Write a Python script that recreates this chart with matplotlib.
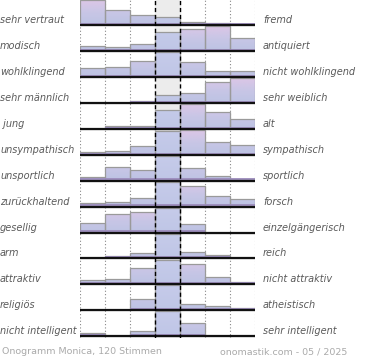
import numpy as np
import matplotlib
matplotlib.use("Agg")
import matplotlib.pyplot as plt
from matplotlib.colors import LinearSegmentedColormap
from matplotlib.patches import Rectangle
import matplotlib.transforms as mtransforms

left_labels = ["sehr vertraut", "modisch", "wohlklingend", "sehr männlich", " jung",
               "unsympathisch", "unsportlich", "zurückhaltend", "gesellig", "arm",
               "attraktiv", "religiös", "nicht intelligent"]
right_labels = ["fremd", "antiquiert", "nicht wohlklingend", "sehr weiblich", "alt",
                "sympathisch", "sportlich", "forsch", "einzelgängerisch", "reich",
                "nicht attraktiv", "atheistisch", "sehr intelligent"]

# relative bar heights per row, 7 bins from left label to right label
values = [
    [24, 14, 10, 8, 2.5, 1.5, 1],
    [4.5, 3.5, 7, 19, 22.5, 25, 12.5],
    [8.7, 10, 15.3, 24.7, 15, 6.3, 6.3],
    [0, 0, 1.7, 7.7, 9.3, 20.7, 24.3],
    [0, 2.3, 3, 18, 24.3, 16.3, 9.7],
    [2.7, 3.7, 8.7, 24, 25, 12.3, 9.3],
    [3.3, 12.3, 9.7, 23.3, 12, 4, 1.3],
    [3.3, 5, 9, 24.7, 20, 10.7, 8],
    [10, 19, 21, 25, 8.3, 0, 0],
    [0, 2.7, 5, 25, 6, 3, 0],
    [4.7, 5.7, 16.3, 25, 20.7, 7, 2.3],
    [0, 0.5, 11.7, 25, 6.7, 4.3, 2.7],
    [3, 0, 5, 25, 13, 0, 0],
]

footer_left = "Onogramm Monica, 120 Stimmen"
footer_right = "onomastik.com - 05 / 2025"

W, H = 370, 360
row_h = 25.95
n_rows = len(values)
n_bins = 7
top_px, bottom_px = 0, 338
x0_px, x1_px = 80, 255

fig = plt.figure(figsize=(W / 100, H / 100), dpi=100)
ax = fig.add_axes([x0_px / W, 1 - bottom_px / H, (x1_px - x0_px) / W, (bottom_px - top_px) / H])
y_top = 25 / row_h
y_bot = -(n_rows - 1) - (bottom_px - 336.3) / row_h
ax.set_xlim(-0.5, n_bins - 0.5)
ax.set_ylim(y_bot, y_top)
ax.axis("off")

cmap = LinearSegmentedColormap.from_list("bar", ["#bcc3e3", "#c8c6e6", "#dcc6e6"])
grad = np.linspace(0, 1, 64).reshape(-1, 1)[::-1]
mid_cmap = LinearSegmentedColormap.from_list("mid", ["#bfc6e6", "#c6cbea"])

# middle column background
ax.axvspan(2.5, 3.5, color="#ececec", zorder=0)
for xe in [-0.5, 0.5, 1.5, 4.5, 5.5, 6.5]:
    ax.axvline(xe, color="#888888", lw=0.8, ls=(0, (1, 2)), zorder=1)

bins = np.arange(n_bins)
row_max = 0.96
for i, row in enumerate(values):
    base = -i
    v = np.array(row, dtype=float)
    h = v / v.max() * row_max
    for b, hb in zip(bins, h):
        if hb <= 0.02:
            continue
        rect = Rectangle((b - 0.5, base), 1, hb, facecolor="none", edgecolor="none")
        ax.add_patch(rect)
        cm = mid_cmap if b == 3 else cmap
        im = ax.imshow(grad, cmap=cm, aspect="auto",
                       extent=(-0.5, n_bins - 0.5, base, base + row_max),
                       zorder=2, interpolation="bilinear")
        im.set_clip_path(rect)
    # bar outlines
    ax.bar(bins, h, width=1, bottom=base, facecolor="none",
           edgecolor="#9a9a9a", linewidth=0.9, zorder=3)
    # purple shading at the bottom of the bars
    for b, hb in zip(bins, h):
        if hb > 0.02:
            ax.plot([b - 0.5, b + 0.5], [base + 0.045, base + 0.045],
                    color="#9c8cbc", lw=1.3, solid_capstyle="butt", zorder=4)
    ax.plot([-0.5, n_bins - 0.5], [base, base], color="#111111", lw=1.6,
            solid_capstyle="butt", zorder=5)

for xe in [2.5, 3.5]:
    ax.axvline(xe, color="black", lw=1.0, ls=(0, (3, 2)), zorder=6)

# labels
trans = mtransforms.blended_transform_factory(fig.transFigure, ax.transData)
for i, (l, r) in enumerate(zip(left_labels, right_labels)):
    y = -i + 5 / row_h
    ax.text(0 / W, y, l, transform=trans, ha="left", va="center",
            fontsize=7, style="italic", color="#5a5a5a")
    ax.text(263 / W, y, r, transform=trans, ha="left", va="center",
            fontsize=7, style="italic", color="#5a5a5a")

fig.text(2 / W, 1 - 352 / H, footer_left, ha="left", va="center",
         fontsize=6.8, color="#aaaaaa")
fig.text(347 / W, 1 - 352 / H, footer_right, ha="right", va="center",
         fontsize=6.8, color="#aaaaaa")

fig.savefig("out.png", dpi=100)
